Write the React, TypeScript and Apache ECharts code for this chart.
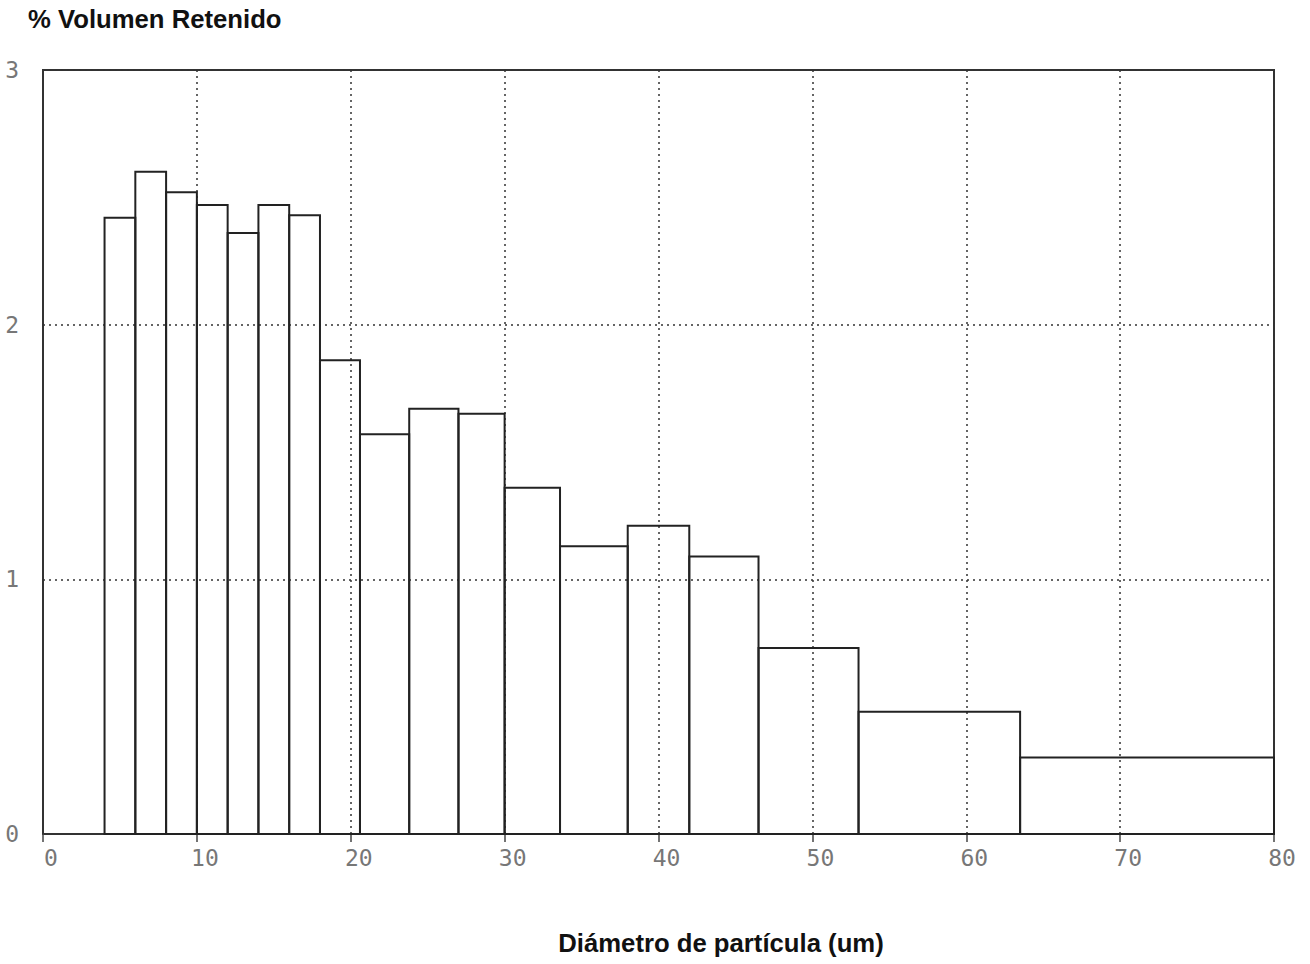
import React, { useEffect, useRef } from "react";
import * as echarts from "echarts";

// Bin edges (um) and % volume retained for each bin
const binEdges = [4, 6, 8, 10, 12, 14, 16, 18, 20.6, 23.8, 27, 30, 33.6, 38, 42, 46.5, 53, 63.5, 80];
const volumePct = [2.42, 2.6, 2.52, 2.47, 2.36, 2.47, 2.43, 1.86, 1.57, 1.67, 1.65, 1.36, 1.13, 1.21, 1.09, 0.73, 0.48, 0.3];
const xTicks = [0, 10, 20, 30, 40, 50, 60, 70, 80];
const yTicks = [0, 1, 2, 3];

const yTitle = "% Volumen Retenido";
const xTitle = "Diámetro de partícula (um)";

export default function App() {
  const ref = useRef<HTMLDivElement>(null);

  useEffect(() => {
    if (!ref.current) return;
    const chart = echarts.init(ref.current, undefined, { renderer: "svg" });
    const bars = volumePct.map((v, i) => [binEdges[i], binEdges[i + 1], v]);
    const tickFont = {
      fontFamily: "DejaVu Sans Mono",
      fontSize: 23,
      color: "#777",
    };
    chart.setOption({
      animation: false,
      backgroundColor: "#ffffff",
      grid: {
        left: 43,
        right: 36,
        top: 70,
        bottom: 130,
        show: true,
        borderColor: "#333",
        borderWidth: 2,
        backgroundColor: "transparent",
      },
      xAxis: {
        type: "value",
        min: xTicks[0],
        max: xTicks[xTicks.length - 1],
        interval: 10,
        axisLine: { show: true, onZero: true, lineStyle: { color: "#333", width: 2 } },
        axisTick: { show: true, length: 8, lineStyle: { color: "#444", width: 1.5 } },
        axisLabel: { ...tickFont, margin: 12, padding: [0, 0, 0, 16] },
        splitLine: { show: true, lineStyle: { color: "#333", type: [2, 4], width: 1.5 } },
      },
      yAxis: {
        type: "value",
        min: yTicks[0],
        max: yTicks[yTicks.length - 1],
        interval: 1,
        axisLine: { show: true, lineStyle: { color: "#333", width: 2 } },
        axisTick: { show: false },
        axisLabel: { ...tickFont, margin: 24 },
        splitLine: { show: true, lineStyle: { color: "#333", type: [2, 4], width: 1.5 } },
      },
      series: [
        {
          type: "custom",
          data: bars,
          encode: { x: [0, 1], y: 2 },
          renderItem: (params: any, api: any) => {
            const x0 = api.value(0);
            const x1 = api.value(1);
            const h = api.value(2);
            const p0 = api.coord([x0, h]);
            const p1 = api.coord([x1, 0]);
            return {
              type: "rect",
              shape: { x: p0[0], y: p0[1], width: p1[0] - p0[0], height: p1[1] - p0[1] },
              style: { fill: "none", stroke: "#222", lineWidth: 2 },
            };
          },
        },
      ],
      graphic: [
        {
          type: "text",
          left: 28,
          top: 6,
          style: {
            text: yTitle,
            font: "bold 25.7px 'Liberation Sans', Arial, sans-serif",
            fill: "#111",
          },
        },
        {
          type: "text",
          x: 721,
          y: 943,
          style: {
            text: xTitle,
            font: "bold 25.7px 'Liberation Sans', Arial, sans-serif",
            fill: "#111",
            align: "center",
            verticalAlign: "middle",
          },
        },
      ],
    });
    return () => chart.dispose();
  }, []);

  return (
    <div
      ref={ref}
      style={{ position: "fixed", left: 0, top: 0, width: 1310, height: 964, background: "#fff" }}
    />
  );
}
